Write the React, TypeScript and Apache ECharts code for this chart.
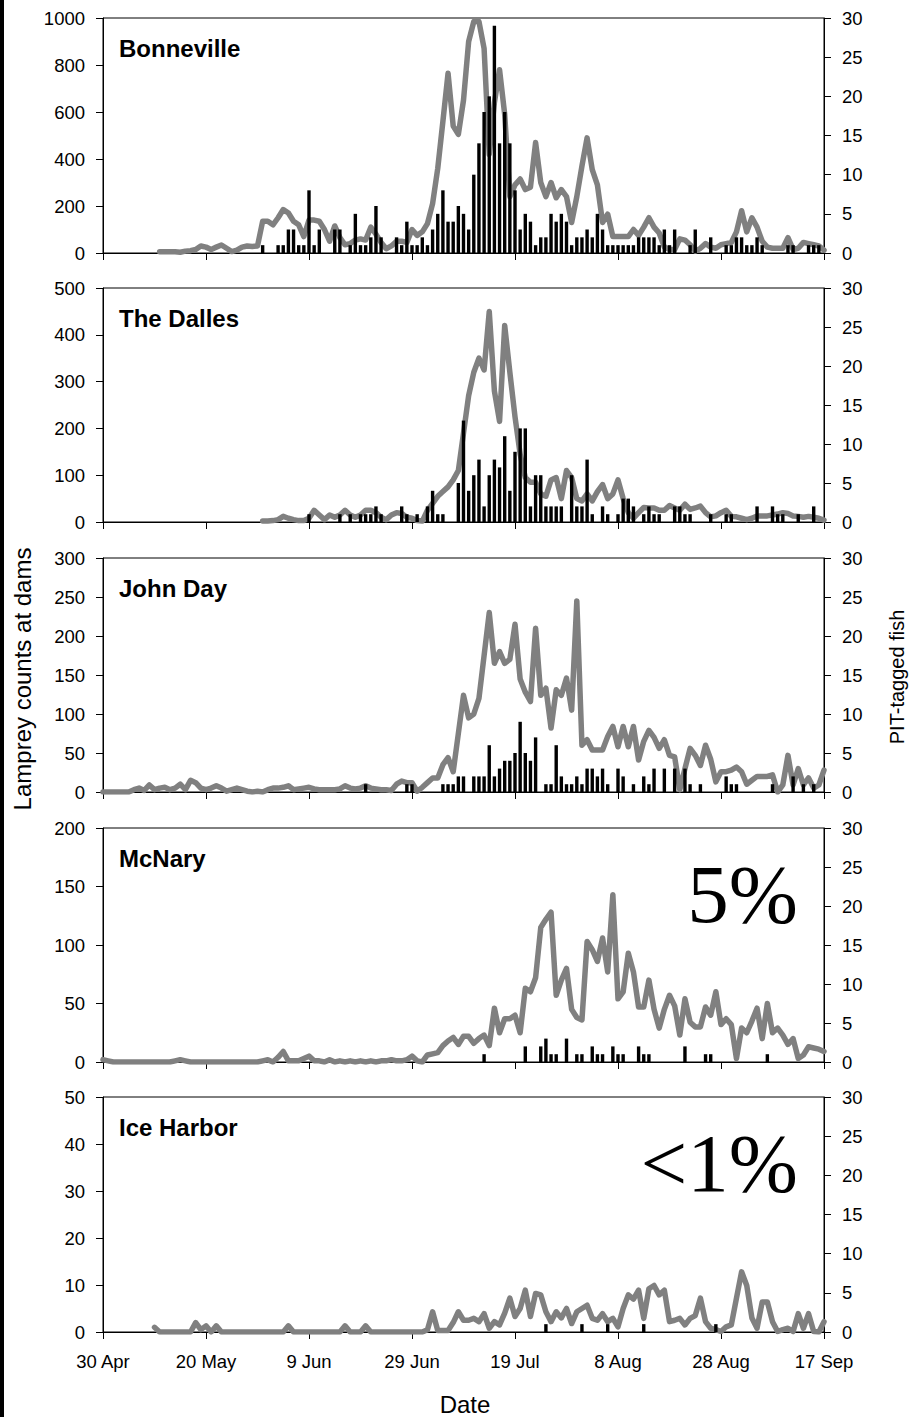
import React, { useEffect, useRef } from "react";
import * as echarts from "echarts";

// ---- axis / label data ----
const dateLabels = ["30 Apr", "20 May", "9 Jun", "29 Jun", "19 Jul", "8 Aug", "28 Aug", "17 Sep"];
const damNames = ["Bonneville", "The Dalles", "John Day", "McNary", "Ice Harbor"];
const leftMax = [1000, 500, 300, 200, 50];
const leftStep = [200, 100, 50, 50, 10];
const rightMax = 30;
const rightStep = 5;
const dayMax = 140;
const dayStep = 20;

// ---- daily lamprey counts at dams (left axis); day 0 = 30 Apr ----
const bonnevilleStart = 11;
const bonnevilleCounts = [
  5, 5, 5, 5, 3, 8, 10, 15, 30, 25,
  15, 25, 34, 20, 6, 12, 25, 30, 28, 30,
  135, 135, 120, 150, 185, 170, 135, 120, 70, 140,
  140, 135, 100, 50, 115, 65, 35, 40, 55, 60,
  55, 110, 80, 45, 18, 30, 50, 50, 45, 100,
  75, 90, 125, 210, 360, 560, 765, 540, 505, 650,
  900, 985, 985, 870, 420, 640, 780, 590, 240, 290,
  315, 270, 280, 470, 300, 240, 300, 235, 270, 240,
  130, 240, 370, 490, 355, 290, 130, 165, 70, 70,
  70, 70, 100, 75, 110, 150, 110, 85, 25, 15,
  15, 60, 55, 35, 8, 20, 40, 25, 20, 35,
  40, 45, 90, 180, 90, 150, 110, 50, 25, 20,
  20, 20, 65, 15, 20, 45, 40, 35, 30, 12,
];

const dallesStart = 31;
const dallesCounts = [
  2, 2, 3, 5, 12, 8, 5, 3, 3, 8,
  25, 15, 5, 15, 10, 15, 25, 15, 10, 15,
  25, 25, 20, 10, 5, 15, 20, 18, 10, 8,
  3, 2, 25, 40, 55, 65, 75, 90, 110, 190,
  270, 320, 350, 325, 450, 280, 215, 420, 320, 225,
  145, 95, 85, 85, 60, 55, 90, 95, 50, 110,
  95, 50, 45, 60, 45, 65, 80, 50, 60, 90,
  50, 20, 8, 20, 31, 30, 30, 25, 25, 35,
  30, 25, 38, 27, 30, 34, 20, 11, 13, 20,
  25, 12, 11, 8, 5, 8, 13, 13, 13, 15,
  17, 20, 18, 13, 12, 10, 12, 10, 8, 4,
];

const johnDayStart = 0;
const johnDayCounts = [
  0, 0, 0, 0, 0, 0, 3, 5, 2, 9,
  3, 5, 6, 3, 5, 10, 3, 15, 12, 5,
  3, 5, 8, 5, 1, 3, 5, 3, 1, 0,
  1, 0, 3, 5, 5, 6, 8, 3, 4, 5,
  6, 4, 3, 3, 3, 3, 4, 8, 5, 4,
  5, 8, 5, 4, 3, 3, 2, 10, 14, 12,
  12, 1, 6, 12, 18, 18, 35, 44, 26, 75,
  124, 95, 100, 120, 175, 230, 165, 180, 165, 170,
  215, 145, 128, 116, 210, 124, 133, 82, 131, 124,
  146, 105, 245, 60, 67, 54, 54, 54, 71, 84,
  58, 84, 58, 84, 41, 65, 79, 70, 56, 67,
  47, 45, 3, 30, 56, 47, 34, 60, 42, 13,
  26, 26, 28, 32, 26, 10, 15, 20, 20, 20,
  22, 0, 9, 47, 9, 30, 9, 18, 5, 9, 28,
];

const mcNaryStart = 0;
const mcNaryCounts = [
  2, 1, 0, 0, 0, 0, 0, 0, 0, 0,
  0, 0, 0, 0, 1, 2, 1, 0, 0, 0,
  0, 0, 0, 0, 0, 0, 0, 0, 0, 0,
  0, 1, 2, 0, 4, 9, 1, 1, 1, 3,
  5, 1, 1, 0, 2, 0, 1, 0, 1, 0,
  1, 0, 1, 0, 1, 1, 2, 1, 1, 2,
  5, 1, 0, 6, 7, 8, 14, 18, 21, 15,
  22, 22, 16, 20, 23, 14, 46, 25, 37, 37,
  40, 25, 63, 60, 72, 115, 122, 128, 57, 70,
  80, 45, 38, 36, 103, 96, 86, 106, 77, 143,
  54, 60, 93, 77, 47, 47, 70, 45, 29, 45,
  57, 48, 23, 54, 34, 30, 30, 47, 40, 60,
  32, 37, 32, 3, 29, 25, 35, 46, 20, 50,
  25, 29, 23, 15, 20, 3, 6, 13, 12, 11, 9,
];

const iceHarborStart = 10;
const iceHarborCounts = [
  1, 0, 0, 0, 0, 0, 0, 0, 2, 0.5,
  1.3, 0, 1.3, 0, 0, 0, 0, 0, 0, 0,
  0, 0, 0, 0, 0, 0, 1.3, 0, 0, 0,
  0, 0, 0, 0, 0, 0, 0, 1.3, 0, 0,
  0, 1.3, 0, 0, 0, 0, 0, 0, 0, 0,
  0, 0, 0, 0.5, 4.3, 0.3, 0.3, 0.3, 2, 4.3,
  2.5, 2.5, 2.9, 2.2, 3.9, 0.8, 2.2, 1.5, 4, 7.2,
  3.3, 5, 8.9, 3.3, 8.2, 7.9, 4.3, 2.2, 4.3, 3,
  5, 1.8, 4.3, 5, 5.7, 2.9, 2.5, 3.9, 2.2, 2.9,
  1.1, 5, 7.9, 7, 8.9, 2.9, 9.2, 9.9, 7.9, 8.9,
  2.2, 2.5, 2.9, 1.5, 2.9, 3.5, 7.2, 2.2, 0.8, 0.5,
  0.1, 1.1, 1.5, 7.2, 12.8, 9.9, 3, 0.8, 6.4, 6.4,
  2.2, 0.1, 0.5, 0.8, 0.1, 3.9, 0.8, 3.9, 0.1, 0, 2.2,
];

// ---- PIT-tagged fish per day (right axis) ----
const bonnevillePitDays = [
  31, 34, 35, 36, 37, 38, 39, 40, 41, 42, 45, 46, 48, 49, 50, 51, 52, 53, 54, 57,
  58, 59, 60, 61, 62, 63, 64, 65, 66, 67, 68, 69, 70, 71, 72, 73, 74, 75, 76, 77,
  78, 79, 80, 81, 82, 83, 84, 85, 86, 87, 88, 89, 90, 91, 92, 93, 94, 95, 96, 97,
  98, 99, 100, 101, 102, 103, 104, 105, 106, 107, 108, 109, 110, 111, 114, 115, 118, 121, 122, 123,
  124, 125, 126, 127, 128, 133, 134, 137, 138, 139,
];
const bonnevillePitFish = [
  1, 1, 1, 3, 3, 1, 1, 8, 1, 3, 3, 3, 1, 5, 1, 1, 2, 6, 2, 2,
  1, 4, 1, 1, 2, 1, 3, 5, 8, 4, 4, 6, 5, 3, 10, 14, 18, 20, 29, 14,
  18, 14, 8, 3, 5, 4, 1, 2, 2, 5, 4, 5, 4, 1, 2, 2, 3, 2, 5, 3,
  1, 1, 1, 1, 1, 1, 2, 2, 2, 2, 1, 3, 1, 3, 1, 3, 2, 1, 1, 2,
  2, 1, 1, 2, 1, 1, 1, 1, 1, 1,
];

const dallesPitDays = [
  40, 46, 48, 50, 51, 52, 53, 54, 58, 59, 61, 63, 64, 65, 66, 69, 70, 71, 72, 73,
  74, 75, 76, 77, 78, 79, 80, 81, 82, 83, 84, 85, 86, 87, 88, 89, 91, 92, 93, 94,
  95, 97, 98, 100, 101, 102, 103, 105, 106, 107, 108, 111, 112, 113, 114, 118, 121, 122, 127, 130,
  131, 132, 135, 138,
];
const dallesPitFish = [
  1, 1, 1, 1, 1, 1, 2, 1, 2, 1, 1, 2, 4, 1, 1, 5, 13, 4, 6, 8,
  2, 6, 8, 7, 11, 4, 9, 12, 12, 2, 6, 6, 2, 2, 2, 2, 6, 2, 2, 8,
  1, 2, 1, 1, 3, 3, 2, 1, 2, 1, 1, 2, 2, 1, 1, 1, 1, 1, 2, 2,
  1, 1, 1, 2,
];

const johnDayPitDays = [
  51, 59, 60, 66, 67, 68, 69, 70, 72, 73, 74, 75, 76, 77, 78, 79, 80, 81, 82, 83,
  84, 86, 87, 88, 89, 90, 91, 92, 93, 94, 95, 96, 97, 98, 100, 101, 103, 105, 106, 107,
  109, 111, 113, 114, 116, 121, 122, 123, 130, 134, 136, 138,
];
const johnDayPitFish = [
  1, 1, 1, 1, 1, 1, 2, 2, 2, 2, 2, 6, 2, 3, 4, 4, 5, 9, 5, 4,
  7, 1, 1, 6, 2, 1, 1, 2, 1, 3, 3, 2, 3, 1, 3, 2, 1, 2, 1, 3,
  3, 3, 3, 1, 1, 2, 1, 1, 1, 2, 1, 1,
];

const mcNaryPitDays = [74, 82, 85, 86, 87, 88, 90, 92, 93, 95, 96, 97, 99, 100, 101, 104, 105, 106, 113, 117, 118, 129];
const mcNaryPitFish = [1, 2, 2, 3, 1, 1, 3, 1, 1, 2, 1, 1, 2, 1, 1, 2, 1, 1, 2, 1, 1, 1];

const iceHarborPitDays = [86, 93, 98, 105, 119];
const iceHarborPitFish = [1, 1, 1, 1, 1];

const countStarts = [bonnevilleStart, dallesStart, johnDayStart, mcNaryStart, iceHarborStart];
const countSeries = [bonnevilleCounts, dallesCounts, johnDayCounts, mcNaryCounts, iceHarborCounts];
const pitDaySeries = [bonnevillePitDays, dallesPitDays, johnDayPitDays, mcNaryPitDays, iceHarborPitDays];
const pitFishSeries = [bonnevillePitFish, dallesPitFish, johnDayPitFish, mcNaryPitFish, iceHarborPitFish];

const percentLabels = ["", "", "", "5%", "<1%"];

// ---- layout ----
const gridTops = [18, 288, 558, 828, 1097];
const gridHeights = [235, 234, 234, 234, 235];
const gridLeft = 103;
const gridWidth = 721;

const SANS = "'Liberation Sans', Arial, sans-serif";
const SERIF = "'Liberation Serif', 'Times New Roman', serif";

export default function App() {
  const ref = useRef<HTMLDivElement>(null);

  useEffect(() => {
    if (!ref.current) return;
    const chart = echarts.init(ref.current, undefined, { renderer: "svg" });

    const grid: any[] = [];
    const xAxis: any[] = [];
    const yAxis: any[] = [];
    const series: any[] = [];
    const graphic: any[] = [];

    for (let i = 0; i < 5; i++) {
      grid.push({
        left: gridLeft,
        top: gridTops[i],
        width: gridWidth,
        height: gridHeights[i],
        show: true,
        borderColor: "#000",
        borderWidth: 1,
        backgroundColor: "transparent",
        containLabel: false,
      });
      xAxis.push({
        type: "value",
        gridIndex: i,
        min: 0,
        max: dayMax,
        interval: dayStep,
        axisLine: { show: true, onZero: false, lineStyle: { color: "#000", width: 1 } },
        axisTick: { show: true, inside: false, length: 7, lineStyle: { color: "#000" } },
        splitLine: { show: false },
        axisLabel: {
          show: i === 4,
          margin: 20,
          color: "#000",
          fontFamily: SANS,
          fontSize: 18.5,
          formatter: (v: number) => dateLabels[Math.round(v / dayStep)] ?? "",
        },
      });
      yAxis.push({
        type: "value",
        gridIndex: i,
        position: "left",
        min: 0,
        max: leftMax[i],
        interval: leftStep[i],
        axisLine: { show: true, lineStyle: { color: "#000", width: 1 } },
        axisTick: { show: true, inside: false, length: 7, lineStyle: { color: "#000" } },
        splitLine: { show: false },
        axisLabel: { margin: 18, color: "#000", fontFamily: SANS, fontSize: 18.5, formatter: (v: number) => String(v) },
      });
      yAxis.push({
        type: "value",
        gridIndex: i,
        position: "right",
        min: 0,
        max: rightMax,
        interval: rightStep,
        axisLine: { show: true, lineStyle: { color: "#000", width: 1 } },
        axisTick: { show: true, inside: false, length: 7, lineStyle: { color: "#000" } },
        splitLine: { show: false },
        axisLabel: { margin: 18, color: "#000", fontFamily: SANS, fontSize: 18.5, formatter: (v: number) => String(v) },
      });
      const start = countStarts[i];
      series.push({
        type: "line",
        name: damNames[i] + " counts",
        xAxisIndex: i,
        yAxisIndex: 2 * i,
        data: countSeries[i].map((v, k) => [start + k, v]),
        showSymbol: false,
        symbol: "none",
        lineStyle: { color: "#808080", width: 5.5, cap: "round", join: "round" },
        z: 2,
      });
      const days = pitDaySeries[i];
      series.push({
        type: "bar",
        name: damNames[i] + " PIT",
        xAxisIndex: i,
        yAxisIndex: 2 * i + 1,
        data: days.map((d, k) => [d, pitFishSeries[i][k]]),
        barWidth: 3.4,
        itemStyle: { color: "#000" },
        z: 3,
      });
      graphic.push({
        type: "text",
        left: 119,
        top: gridTops[i] + 30 - 12,
        style: { text: damNames[i], fill: "#000", font: `bold 24px ${SANS}` },
        z: 10,
      });
      if (percentLabels[i]) {
        graphic.push({
          type: "text",
          x: 798,
          y: gridTops[i] + 66,
          style: {
            text: percentLabels[i],
            fill: "#000",
            font: `83px ${SERIF}`,
            textAlign: "right",
            textVerticalAlign: "middle",
          },
          z: 10,
        });
      }
    }

    graphic.push({ type: "rect", left: 0, top: 0, z: 100, shape: { width: 4, height: 1417 }, style: { fill: "#000" } });
    graphic.push({
      type: "text",
      x: 22,
      y: 679,
      rotation: Math.PI / 2,
      style: { text: "Lamprey counts at dams", fill: "#000", font: `24px ${SANS}`, textAlign: "center", textVerticalAlign: "middle" },
    });
    graphic.push({
      type: "text",
      x: 897,
      y: 677,
      rotation: Math.PI / 2,
      style: { text: "PIT-tagged fish", fill: "#000", font: `20px ${SANS}`, textAlign: "center", textVerticalAlign: "middle" },
    });
    graphic.push({
      type: "text",
      x: 465,
      y: 1404,
      style: { text: "Date", fill: "#000", font: `24px ${SANS}`, textAlign: "center", textVerticalAlign: "middle" },
    });

    chart.setOption({
      animation: false,
      backgroundColor: "#fff",
      grid,
      xAxis,
      yAxis,
      series,
      graphic,
    });

    return () => chart.dispose();
  }, []);

  return <div ref={ref} style={{ position: "absolute", left: 0, top: 0, width: 912, height: 1417 }} />;
}
